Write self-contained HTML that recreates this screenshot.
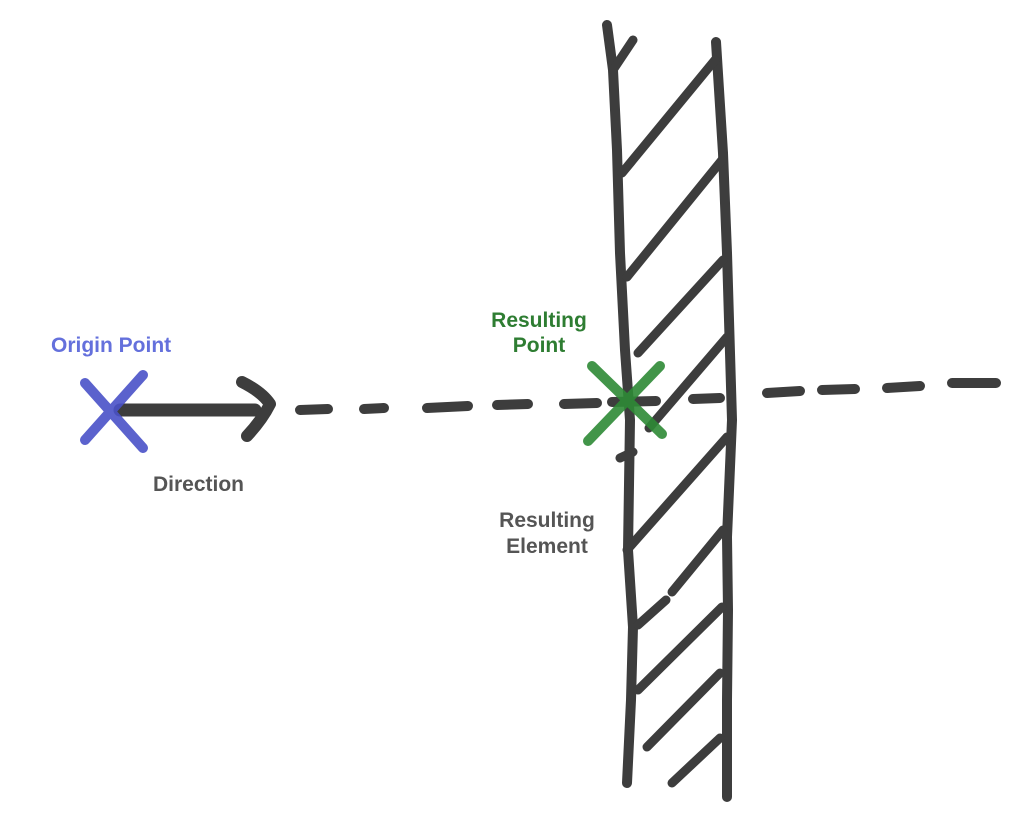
<!DOCTYPE html>
<html><head><style>
body{margin:0;background:#fff;}
svg{display:block}
text{font-family:"Liberation Sans",sans-serif;font-weight:bold;font-size:21px}
</style></head><body>
<svg width="1024" height="816" viewBox="0 0 1024 816">
<g stroke="#3d3d3d" stroke-linecap="round" fill="none" stroke-linejoin="round">
<path d="M607,25 L613,70 L617,150 L620,253 L625,350 L630,420 L628,550 L633,627 L631,700 L627,783" stroke-width="10"/>
<path d="M716,42 L723,153 L727,253 L730,353 L732,420 L727,537 L728,610 L727,700 L727,797" stroke-width="10"/>
<path d="M613,70 L633,40" stroke-width="9"/>
<g stroke-width="9">
<path d="M622,173 L715,60"/>
<path d="M627,277 L722,160"/>
<path d="M638,353 L723,260"/>
<path d="M649,428 L727,337"/>
<path d="M620,458 L633,452"/>
<path d="M627,550 L727,437"/>
<path d="M638,625 L666,600"/>
<path d="M672,592 L723,530"/>
<path d="M638,690 L722,607"/>
<path d="M647,747 L720,673"/>
<path d="M672,783 L720,738"/>
</g>
<path d="M120,410 L255,410" stroke-width="13"/>
<path d="M242,382 Q262,392 270,404 Q262,420 247,436" stroke-width="12"/>
<g stroke-width="10">
<path d="M300,410 L328,409"/>
<path d="M364,409 L384,408"/>
<path d="M427,408 L468,406"/>
<path d="M497,405 L528,404"/>
<path d="M564,404 L597,403"/>
<path d="M612,402 L656,401"/>
<path d="M693,399 L720,398"/>
<path d="M767,393 L800,391"/>
<path d="M822,390 L855,389"/>
<path d="M887,388 L920,386"/>
<path d="M952,383 L996,383"/>
</g>
</g>
<g stroke="#4a52c8" stroke-width="10" stroke-linecap="round" opacity="0.9">
<path d="M85,440 L143,375"/><path d="M85,383 L143,448"/>
</g>
<g stroke="#2e8a36" stroke-width="10" stroke-linecap="round" opacity="0.9">
<path d="M592,366 L662,434"/><path d="M588,441 L660,366"/>
</g>
<text x="51" y="352" fill="#6470dc">Origin Point</text>
<text x="153" y="491" fill="#555">Direction</text>
<text x="539" y="327" fill="#2e7d32" text-anchor="middle">Resulting</text>
<text x="539" y="352" fill="#2e7d32" text-anchor="middle">Point</text>
<text x="547" y="527" fill="#555" text-anchor="middle">Resulting</text>
<text x="547" y="553" fill="#555" text-anchor="middle">Element</text>
</svg>
</body></html>
